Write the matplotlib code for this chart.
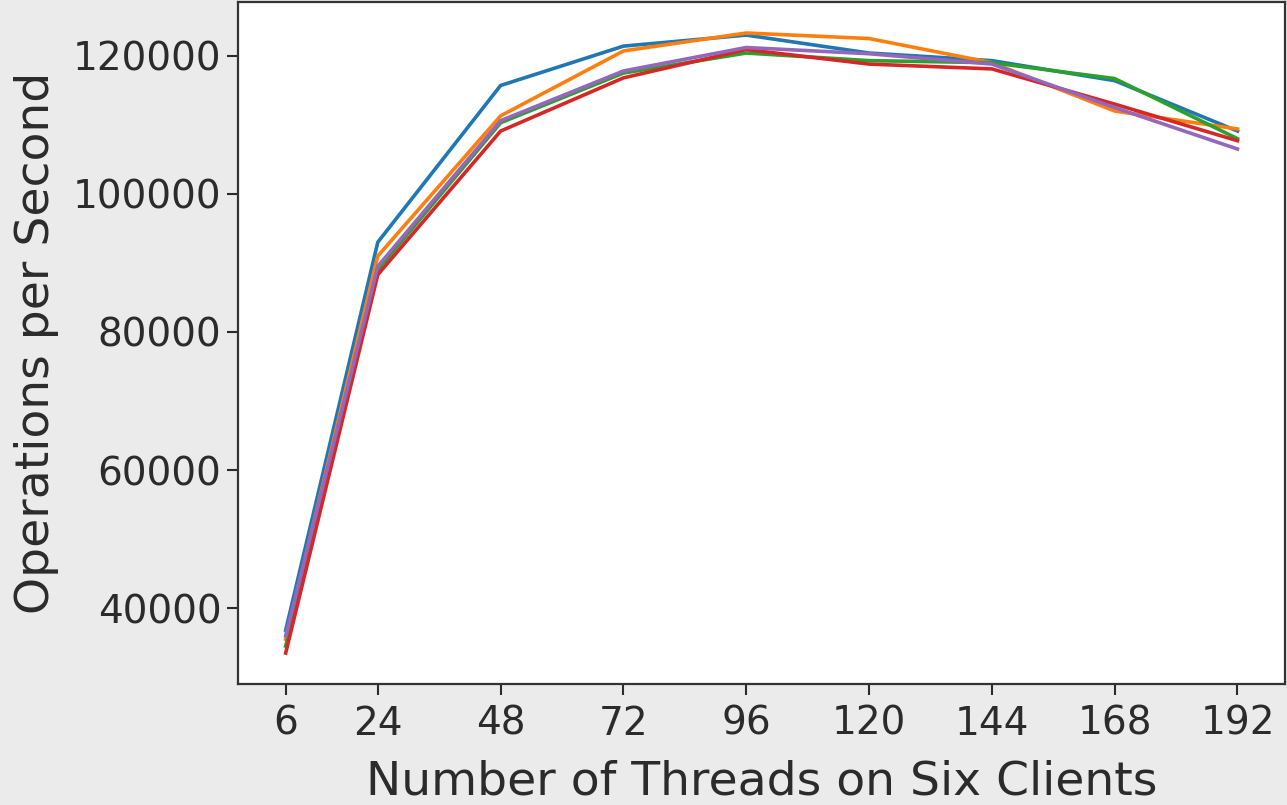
import matplotlib
matplotlib.use("Agg")
import matplotlib.pyplot as plt

threads = [6, 24, 48, 72, 96, 120, 144, 168, 192]
run_blue = [36800, 93000, 115700, 121400, 123000, 120400, 119300, 116400, 109100]
run_orange = [35500, 91000, 111300, 120700, 123300, 122500, 119000, 112000, 109400]
run_green = [34500, 89000, 110300, 117500, 120400, 119300, 119000, 116700, 108000]
run_red = [33500, 88300, 109100, 116800, 120900, 118800, 118100, 113000, 107700]
run_purple = [36000, 89500, 110600, 117800, 121200, 120300, 118800, 112500, 106500]
series = [run_blue, run_orange, run_green, run_red, run_purple]
colors = ["#1f77b4", "#ff7f0e", "#2ca02c", "#d62728", "#9467bd"]
xtick_labels = ["6", "24", "48", "72", "96", "120", "144", "168", "192"]
yticks = [40000, 60000, 80000, 100000, 120000]

fig = plt.figure(figsize=(12.87, 8.05), dpi=100, facecolor="#ebebeb")
ax = fig.add_axes([0.185, 0.1503, 0.8135, 0.8472])
ax.set_facecolor("white")
for s, c in zip(series, colors):
    ax.plot(threads, s, color=c, lw=2.6)

ax.set_xticks(threads)
ax.set_xticklabels(xtick_labels)
ax.set_yticks(yticks)
ax.tick_params(labelsize=28, colors="#2b2b2b", length=8, width=1.5, pad=4)
ax.tick_params(axis="x", pad=7)
ax.set_xlabel("Number of Threads on Six Clients", fontsize=34, color="#2b2b2b", labelpad=12)
ax.set_ylabel("Operations per Second", fontsize=34, color="#2b2b2b", labelpad=10)
for sp in ax.spines.values():
    sp.set_color("#333333")
    sp.set_linewidth(1.6)

fig.savefig("out.png", dpi=100, facecolor=fig.get_facecolor())
